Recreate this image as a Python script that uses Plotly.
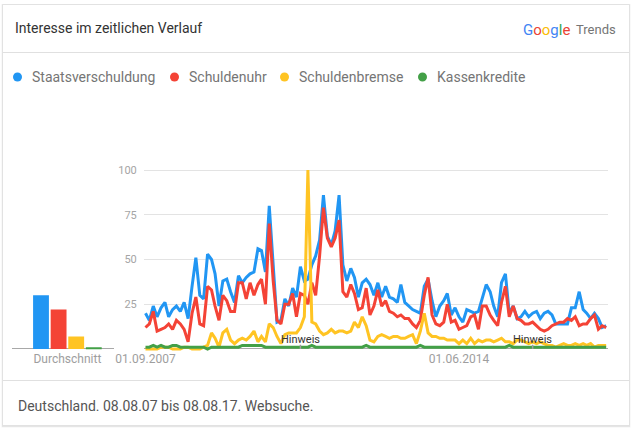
import plotly.graph_objects as go
import pandas as pd

# ---------------- data ----------------
months = pd.date_range("2007-09-01", periods=120, freq="MS")

staatsverschuldung = [
    20, 16, 24, 18, 23, 26, 18, 22, 24, 21,
    26, 17, 35, 51, 30, 28, 53, 50, 42, 24,
    38, 39, 32, 26, 41, 37, 40, 42, 43, 56,
    55, 43, 80, 45, 15, 16, 28, 24, 34, 29,
    46, 38, 39, 47, 52, 61, 86, 63, 58, 66,
    86, 47, 38, 45, 40, 29, 37, 39, 36, 30,
    37, 29, 35, 29, 28, 26, 36, 26, 24, 22,
    21, 20, 35, 39, 27, 18, 24, 27, 31, 19,
    23, 18, 15, 22, 21, 20, 21, 29, 36,
    32, 24, 18, 37, 42, 20, 24, 17, 18, 21,
    18, 20, 21, 17, 20, 21, 19, 14, 14, 14,
    14, 23, 23, 32, 22, 20, 17, 20, 17, 12, 13,
]
schuldenuhr = [
    12, 14, 21, 10, 11, 12, 14, 11, 16, 14,
    11, 4, 20, 29, 14, 13, 35, 33, 24, 16,
    30, 27, 21, 21, 37, 37, 28, 37, 30, 36,
    39, 25, 70, 38, 16, 14, 25, 25, 31, 18,
    31, 30, 25, 37, 30, 52, 79, 62, 57, 62,
    72, 32, 29, 36, 31, 22, 23, 34, 19, 24,
    33, 24, 27, 21, 20, 18, 19, 17, 17, 14,
    12, 16, 30, 40, 19, 14, 13, 15, 25, 15,
    16, 11, 12, 13, 18, 19, 11, 24, 24,
    19, 16, 13, 26, 35, 18, 24, 17, 16, 14,
    14, 15, 13, 11, 10, 11, 13, 14, 15, 15,
    17, 16, 18, 13, 14, 14, 17, 19, 11, 13, 12,
]
schuldenbremse = [
    0, 0, 0, 0, 1, 1, 1, 0, 0, 0,
    1, 1, 0, 0, 0, 1, 2, 9, 6, 1,
    9, 11, 5, 3, 5, 6, 5, 7, 10, 4,
    7, 4, 14, 12, 7, 3, 8, 9, 9, 9,
    12, 18, 100, 15, 14, 10, 8, 9, 11, 9,
    10, 10, 9, 10, 15, 12, 18, 13, 5, 4,
    7, 8, 7, 6, 7, 7, 6, 6, 7, 8,
    3, 10, 20, 9, 7, 7, 6, 6, 5, 5,
    5, 3, 5, 3, 6, 3, 5, 4, 5,
    5, 4, 5, 6, 4, 4, 3, 5, 5, 4,
    3, 4, 3, 4, 3, 2, 2, 1, 2, 3,
    2, 2, 3, 2, 3, 2, 3, 1, 2, 2, 2,
]
kassenkredite = [
    1, 1, 2, 1, 2, 1, 1, 2, 2, 1,
    1, 1, 1, 1, 1, 1, 0, 1, 1, 1,
    1, 1, 1, 1, 1, 2, 2, 2, 2, 2,
    2, 1, 1, 1, 1, 1, 1, 1, 1, 1,
    1, 1, 1, 2, 1, 1, 1, 1, 1, 1,
    1, 1, 1, 1, 1, 1, 1, 2, 1, 1,
    1, 1, 1, 1, 1, 1, 1, 1, 1, 1,
    1, 2, 1, 1, 1, 1, 1, 1, 1, 1,
    1, 1, 1, 1, 1, 1, 1, 1, 1,
    1, 1, 1, 1, 1, 2, 1, 1, 1, 1,
    1, 1, 1, 1, 1, 1, 1, 1, 1, 1,
    1, 1, 1, 1, 1, 1, 1, 1, 1, 1, 1,
]
series_names = ["Staatsverschuldung", "Schuldenuhr", "Schuldenbremse", "Kassenkredite"]
averages = [30, 22, 7, 1]
avg_label = "Durchschnitt"
y_ticks = [25, 50, 75, 100]
x_tick_dates = ["2007-09-01", "2014-06-01"]
x_tick_labels = ["01.09.2007", "01.06.2014"]
note_dates = ["2011-01-01", "2016-01-01"]
note_label = "Hinweis"
title_text = "Interesse im zeitlichen Verlauf"
footer_text = "Deutschland. 08.08.07 bis 08.08.17. Websuche."

# ---------------- style / layout ----------------
colors = ["#2196F3", "#F44336", "#FFC423", "#43A047"]
FONT = "Roboto, Arial, sans-serif"
W, H = 632, 432


def px(x):
    return x / W


def py(y):
    return 1 - y / H


# vertical scale: value 0 at y=349px, 100 at y=170px
Y0, Y100 = 349.0, 170.0
UNIT = (Y0 - Y100) / 100.0
PAD = 1.5
y_range = [-PAD, 100 + PAD]
y_domain = [py(Y0 + PAD * UNIT), py(Y100 - PAD * UNIT)]

# horizontal date scale
X_LEFT, X_RIGHT = 144.0, 608.0
REF0_PX, REF1_PX = 145.5, 459.0
d0 = pd.Timestamp(x_tick_dates[0])
d1 = pd.Timestamp(x_tick_dates[1])
ms_per_px = (d1 - d0) / (REF1_PX - REF0_PX)
x_range = [d0 - ms_per_px * (REF0_PX - X_LEFT), d0 + ms_per_px * (X_RIGHT - REF0_PX)]

# bar subplot
BAR_L, BAR_R = 12.0, 114.0
BAR_C0, BAR_STEP = 41.0, 17.6
x2_range = [-(BAR_C0 - BAR_L) / BAR_STEP, (BAR_R - BAR_C0) / BAR_STEP]

fig = go.Figure()

all_series = [staatsverschuldung, schuldenuhr, schuldenbremse, kassenkredite]
for name, vals, col in zip(series_names, all_series, colors):
    fig.add_trace(go.Scatter(
        x=months, y=vals, mode="lines", name=name,
        line=dict(color=col, width=3), showlegend=False, hoverinfo="skip",
        xaxis="x", yaxis="y",
    ))

fig.add_trace(go.Bar(
    x=list(range(len(averages))), y=averages, marker=dict(color=colors, line=dict(width=0)),
    width=0.9, showlegend=False, hoverinfo="skip", xaxis="x2", yaxis="y2",
))

shapes = []
# card shadow + card
shapes.append(dict(type="rect", xref="paper", yref="paper", x0=px(1.5), x1=px(630.5), y0=py(427.5), y1=py(4),
                   fillcolor="rgba(0,0,0,0.05)", line=dict(width=0), layer="below"))
shapes.append(dict(type="rect", xref="paper", yref="paper", x0=px(2), x1=px(630), y0=py(426.5), y1=py(4.5),
                   fillcolor="rgba(0,0,0,0.10)", line=dict(width=0), layer="below"))
shapes.append(dict(type="rect", xref="paper", yref="paper", x0=px(2.5), x1=px(629.5), y0=py(425.5), y1=py(4.5),
                   fillcolor="white", line=dict(color="#e2e2e2", width=1), layer="below"))
# separators
for yy in (52.5, 380.5):
    shapes.append(dict(type="line", xref="paper", yref="paper", x0=px(3), x1=px(629), y0=py(yy), y1=py(yy),
                       line=dict(color="#e0e0e0", width=1), layer="below"))

# legend
dot_x = [17.5, 174.5, 284.5, 422.5]
text_x = [30, 187, 297, 435]
LEG_Y = 77
annotations = []
for name, col, dx, tx in zip(series_names, colors, dot_x, text_x):
    shapes.append(dict(type="circle", xref="paper", yref="paper",
                       x0=px(dx - 4.5), x1=px(dx + 4.5), y0=py(LEG_Y + 4.5), y1=py(LEG_Y - 4.5),
                       fillcolor=col, line=dict(width=0)))
    annotations.append(dict(text=name, xref="paper", yref="paper", x=px(tx), y=py(LEG_Y),
                            xanchor="left", yanchor="middle", showarrow=False,
                            font=dict(family=FONT, size=14, color="#757575")))

# note markers
for nd in note_dates:
    shapes.append(dict(type="line", xref="x", yref="y", x0=nd, x1=nd, y0=0, y1=2.4,
                       line=dict(color="#9e9e9e", width=1.5), layer="above"))
    annotations.append(dict(text=note_label, xref="x", yref="y", x=nd, y=(Y0 - 339.5) / UNIT,
                            xanchor="center", yanchor="middle", showarrow=False,
                            font=dict(family=FONT, size=11, color="#333333")))

# title, logo, footer
annotations.append(dict(text=title_text, xref="paper", yref="paper", x=px(13), y=py(28.5),
                        xanchor="left", yanchor="middle", showarrow=False,
                        font=dict(family=FONT, size=14, color="#333333")))
google = ("<span style='color:#4285F4'>G</span><span style='color:#EA4335'>o</span>"
          "<span style='color:#FBBC05'>o</span><span style='color:#4285F4'>g</span>"
          "<span style='color:#34A853'>l</span><span style='color:#EA4335'>e</span>")
annotations.append(dict(text=google, xref="paper", yref="paper", x=px(572), y=py(30),
                        xanchor="right", yanchor="middle", showarrow=False,
                        font=dict(family=FONT, size=15, color="#4285F4")))
annotations.append(dict(text="Trends", xref="paper", yref="paper", x=px(574), y=py(30),
                        xanchor="left", yanchor="middle", showarrow=False,
                        font=dict(family=FONT, size=13, color="#757575")))
annotations.append(dict(text=footer_text, xref="paper", yref="paper", x=px(16), y=py(406),
                        xanchor="left", yanchor="middle", showarrow=False,
                        font=dict(family=FONT, size=14, color="#555555")))

fig.update_layout(
    width=W, height=H, autosize=False,
    margin=dict(l=0, r=0, t=0, b=0, pad=0, autoexpand=False),
    paper_bgcolor="white", plot_bgcolor="rgba(0,0,0,0)",
    font=dict(family=FONT),
    showlegend=False,
    shapes=shapes, annotations=annotations,
    xaxis=dict(domain=[px(X_LEFT), px(X_RIGHT)], type="date", range=x_range,
               tickvals=x_tick_dates, ticktext=x_tick_labels, automargin=False,
               showgrid=False, zeroline=False, showline=False,
               ticks="", ticklabelstandoff=-2,
               tickfont=dict(family=FONT, size=12, color="#9e9e9e"), anchor="y"),
    yaxis=dict(domain=y_domain, range=y_range, tickvals=y_ticks, automargin=False,
               showgrid=True, gridcolor="#e3e3e3", gridwidth=1,
               zeroline=True, zerolinecolor="#a8a8a8", zerolinewidth=1, showline=False,
               ticks="outside", ticklen=4, tickcolor="rgba(0,0,0,0)",
               tickfont=dict(family=FONT, size=11, color="#a5a5a5"), anchor="x"),
    xaxis2=dict(domain=[px(BAR_L), px(BAR_R)], range=x2_range, automargin=False,
                tickvals=[(len(averages) - 1) / 2], ticktext=[avg_label],
                showgrid=False, zeroline=False, showline=False,
                ticks="", ticklabelstandoff=-2,
                tickfont=dict(family=FONT, size=12, color="#9e9e9e"), anchor="y2"),
    yaxis2=dict(domain=y_domain, range=y_range, showgrid=False, automargin=False,
                zeroline=True, zerolinecolor="#a8a8a8", zerolinewidth=1,
                showticklabels=False, showline=False, anchor="x2"),
)

fig.write_html("out.html")
